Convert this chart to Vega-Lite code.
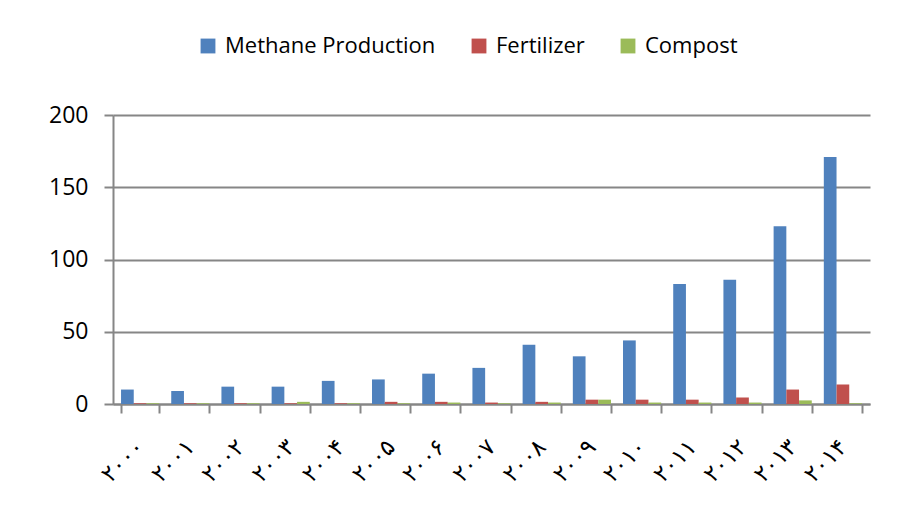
{
  "$schema": "https://vega.github.io/schema/vega-lite/v6.json",
  "width": 757,
  "height": 289,
  "autosize": "none",
  "padding": {"left": 113, "top": 115, "right": 50, "bottom": 101},
  "background": "white",
  "config": {
    "view": {"stroke": null},
    "font": "Open Sans"
  },
  "data": {
    "values": [
      {"year": "۲۰۰۰", "series": "Methane Production", "value": 10},
      {"year": "۲۰۰۰", "series": "Fertilizer", "value": 0.5},
      {"year": "۲۰۰۰", "series": "Compost", "value": 0.5},
      {"year": "۲۰۰۱", "series": "Methane Production", "value": 9},
      {"year": "۲۰۰۱", "series": "Fertilizer", "value": 0.5},
      {"year": "۲۰۰۱", "series": "Compost", "value": 0.5},
      {"year": "۲۰۰۲", "series": "Methane Production", "value": 12},
      {"year": "۲۰۰۲", "series": "Fertilizer", "value": 0.5},
      {"year": "۲۰۰۲", "series": "Compost", "value": 0.5},
      {"year": "۲۰۰۳", "series": "Methane Production", "value": 12},
      {"year": "۲۰۰۳", "series": "Fertilizer", "value": 0.5},
      {"year": "۲۰۰۳", "series": "Compost", "value": 1.5},
      {"year": "۲۰۰۴", "series": "Methane Production", "value": 16},
      {"year": "۲۰۰۴", "series": "Fertilizer", "value": 0.5},
      {"year": "۲۰۰۴", "series": "Compost", "value": 0.5},
      {"year": "۲۰۰۵", "series": "Methane Production", "value": 17},
      {"year": "۲۰۰۵", "series": "Fertilizer", "value": 1.5},
      {"year": "۲۰۰۵", "series": "Compost", "value": 0.5},
      {"year": "۲۰۰۶", "series": "Methane Production", "value": 21},
      {"year": "۲۰۰۶", "series": "Fertilizer", "value": 1.5},
      {"year": "۲۰۰۶", "series": "Compost", "value": 1},
      {"year": "۲۰۰۷", "series": "Methane Production", "value": 25},
      {"year": "۲۰۰۷", "series": "Fertilizer", "value": 1},
      {"year": "۲۰۰۷", "series": "Compost", "value": 0.5},
      {"year": "۲۰۰۸", "series": "Methane Production", "value": 41},
      {"year": "۲۰۰۸", "series": "Fertilizer", "value": 1.5},
      {"year": "۲۰۰۸", "series": "Compost", "value": 1},
      {"year": "۲۰۰۹", "series": "Methane Production", "value": 33},
      {"year": "۲۰۰۹", "series": "Fertilizer", "value": 3},
      {"year": "۲۰۰۹", "series": "Compost", "value": 3},
      {"year": "۲۰۱۰", "series": "Methane Production", "value": 44},
      {"year": "۲۰۱۰", "series": "Fertilizer", "value": 3},
      {"year": "۲۰۱۰", "series": "Compost", "value": 1},
      {"year": "۲۰۱۱", "series": "Methane Production", "value": 83},
      {"year": "۲۰۱۱", "series": "Fertilizer", "value": 3},
      {"year": "۲۰۱۱", "series": "Compost", "value": 1},
      {"year": "۲۰۱۲", "series": "Methane Production", "value": 86},
      {"year": "۲۰۱۲", "series": "Fertilizer", "value": 4.5},
      {"year": "۲۰۱۲", "series": "Compost", "value": 1},
      {"year": "۲۰۱۳", "series": "Methane Production", "value": 123},
      {"year": "۲۰۱۳", "series": "Fertilizer", "value": 10},
      {"year": "۲۰۱۳", "series": "Compost", "value": 2.5},
      {"year": "۲۰۱۴", "series": "Methane Production", "value": 171},
      {"year": "۲۰۱۴", "series": "Fertilizer", "value": 13.5},
      {"year": "۲۰۱۴", "series": "Compost", "value": 0.5}
    ]
  },
  "mark": {"type": "bar"},
  "encoding": {
    "x": {
      "field": "year",
      "type": "nominal",
      "sort": null,
      "scale": {"paddingInner": 0.24, "paddingOuter": 0.16},
      "axis": {
        "title": null,
        "labelAngle": -45,
        "labelAlign": "right",
        "labelBaseline": "middle",
        "labelPadding": 30,
        "labelFont": "DejaVu Sans",
        "labelFontSize": 23,
        "labelColor": "#000000",
        "tickBand": "extent",
        "tickColor": "#868686",
        "tickWidth": 2,
        "tickSize": 9,
        "domainColor": "#868686",
        "domainWidth": 2,
        "grid": false
      }
    },
    "xOffset": {"field": "series", "sort": ["Methane Production", "Fertilizer", "Compost"]},
    "y": {
      "field": "value",
      "type": "quantitative",
      "scale": {"domain": [0, 200], "nice": false},
      "axis": {
        "title": null,
        "values": [0, 50, 100, 150, 200],
        "labelFont": "Open Sans",
        "labelFontSize": 23,
        "labelColor": "#000000",
        "labelPadding": 16,
        "tickColor": "#868686",
        "tickWidth": 2,
        "tickSize": 9,
        "domainColor": "#868686",
        "domainWidth": 2,
        "gridColor": "#868686",
        "gridWidth": 2
      }
    },
    "color": {
      "field": "series",
      "type": "nominal",
      "scale": {"domain": ["Methane Production", "Fertilizer", "Compost"], "range": ["#4F81BD", "#C0504D", "#9BBB59"]},
      "legend": {
        "title": null,
        "orient": "none",
        "direction": "horizontal",
        "legendX": 84,
        "legendY": -80,
        "symbolType": "square",
        "symbolSize": 220,
        "symbolStrokeWidth": 0,
        "labelFont": "Open Sans",
        "labelFontSize": 22,
        "labelColor": "#000000",
        "labelOffset": 6,
        "columnPadding": 32,
        "labelLimit": 400
      }
    }
  }
}
